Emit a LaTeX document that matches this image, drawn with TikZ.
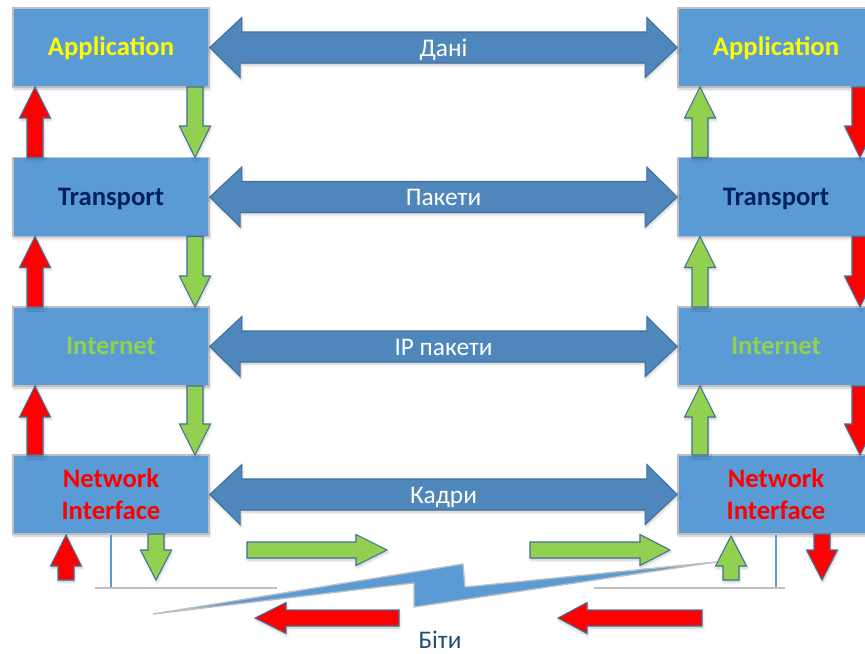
\documentclass[tikz,border=0pt]{standalone}
\usepackage{fontspec}
\setmainfont{Carlito}
\usetikzlibrary{calc,shadows.blur}

\definecolor{boxfill}{HTML}{5B9BD5}
\definecolor{boxline}{HTML}{BFBFBF}
\definecolor{dblfill}{HTML}{4F87BC}
\definecolor{arrline}{HTML}{41719C}
\definecolor{okgreen}{HTML}{92D050}
\definecolor{navytext}{HTML}{002060}
\definecolor{yellowtext}{HTML}{FFFF00}
\definecolor{bitblue}{HTML}{1F4E79}

% vertical block arrow: style, x, tail y, head-base y, tip y
\newcommand\varrow[5]{\path[#1] (#2-8,#3) -- (#2-8,#4) -- (#2-15.5,#4) -- (#2,#5)
  -- (#2+15.5,#4) -- (#2+8,#4) -- (#2+8,#3) -- cycle;}
% horizontal block arrow: style, y, tail x, head-base x, tip x
\newcommand\harrow[5]{\path[#1] (#3,#2-8) -- (#4,#2-8) -- (#4,#2-15.5) -- (#5,#2)
  -- (#4,#2+15.5) -- (#4,#2+8) -- (#3,#2+8) -- cycle;}
% two-headed band between a pair of layers, with its label
\newcommand\dblband[4]{%
  \path[dblarrow] (#1.east) -- ++(32,-30) -- ++(0,14.5) -- ++(405,0) -- ++(0,-14.5)
    -- (#2.west) -- ++(-32,30) -- ++(0,-14.5) -- ++(-405,0) -- ++(0,14.5) -- cycle;
  \node[bandlabel] (#3) at ($(#1.east)!0.5!(#2.west)$) {#4};}

\tikzset{
  softshadow/.style={blur shadow={shadow xshift=0.6pt, shadow yshift=-1.5pt,
      shadow blur radius=2pt, shadow opacity=22}},
  layer/.style={draw=boxline, line width=1.2pt, fill=boxfill, minimum width=147pt,
      minimum height=59.25pt, inner sep=0pt, align=center, softshadow,
      font=\fontsize{20}{24}\selectfont\bfseries},
  onerow/.style={text height=16.5pt, text depth=4pt},
  dblarrow/.style={draw=arrline, line width=0.8pt, fill=dblfill, softshadow},
  bandlabel/.style={text=white, inner sep=0pt, anchor=base, yshift=-6.4pt,
      font=\fontsize{19}{24}\selectfont},
  redarrow/.style={draw=arrline, line width=0.8pt, fill=red, softshadow},
  greenarrow/.style={draw=arrline, line width=0.8pt, fill=okgreen, softshadow},
  bolt/.style={draw=boxline, line width=1pt, fill=boxfill, line join=miter},
  wireline/.style={draw=boxline, line width=1.2pt},
  tapline/.style={draw=boxfill, line width=1pt},
}

\begin{document}
\begin{tikzpicture}[x=0.75pt,y=-0.75pt]
\useasboundingbox (0,0) rectangle (865,654);
\clip (0,0) rectangle (865,654);

% layer stacks of the two hosts
\node[layer, onerow, text=yellowtext] (appL) at (111,47.5) {Application};
\node[layer, onerow, text=navytext]   (trL)  at (111,197) {Transport};
\node[layer, onerow, text=okgreen]    (inL)  at (111,346.5) {Internet};
\node[layer, text=red]                (nwL)  at (111,494.5) {Network\\Interface};

\node[layer, onerow, text=yellowtext] (appR) at (776,47.5) {Application};
\node[layer, onerow, text=navytext]   (trR)  at (776,197) {Transport};
\node[layer, onerow, text=okgreen]    (inR)  at (776,346.5) {Internet};
\node[layer, text=red]                (nwR)  at (776,494.5) {Network\\Interface};

% peer-to-peer exchange on each level
\dblband{appL}{appR}{lblData}{Дані}
\dblband{trL}{trR}{lblSeg}{Пакети}
\dblband{inL}{inR}{lblIP}{IP пакети}
\dblband{nwL}{nwR}{lblFrame}{Кадри}

% left host: data goes down (green), replies go up (red)
\varrow{redarrow}{35}{157.5}{118}{87}
\varrow{redarrow}{35}{307}{267.5}{236.5}
\varrow{redarrow}{35}{455}{417}{386}
\varrow{greenarrow}{195}{87}{126}{157.5}
\varrow{greenarrow}{195}{236.5}{276}{307}
\varrow{greenarrow}{195}{386}{424}{455}

% right host: data goes up (green), replies go down (red)
\varrow{greenarrow}{700}{157.5}{118}{87}
\varrow{greenarrow}{700}{307}{267.5}{236.5}
\varrow{greenarrow}{700}{455}{417}{386}
\varrow{redarrow}{860}{87}{126}{157.5}
\varrow{redarrow}{860}{236.5}{276}{307}
\varrow{redarrow}{860}{386}{424}{455}

% physical medium
\draw[tapline] (nwL.south) -- ++(0,54) coordinate (tapL);
\draw[tapline] (nwR.south) -- ++(0,54) coordinate (tapR);
\draw[wireline] (95,588) -- (277,588);
\draw[wireline] (594,588) -- (785,588);
\path[bolt] (153,614) -- (463,564) -- (465,587) -- (716,562) -- (414,607) -- (414,583) -- cycle;

% bit flow along the medium
\varrow{redarrow}{66}{580}{566}{535}
\varrow{greenarrow}{156}{534}{550}{580}
\varrow{greenarrow}{731}{580}{566}{536}
\varrow{redarrow}{822}{534}{550}{580}
\harrow{greenarrow}{550}{247}{356}{387}
\harrow{greenarrow}{550}{530}{640}{670}
\harrow{redarrow}{618}{399}{286}{255}
\harrow{redarrow}{618}{702}{587}{558}

\node[text=bitblue, inner sep=0pt, anchor=base, font=\fontsize{19}{24}\selectfont] (bits) at (440,648) {Біти};
\end{tikzpicture}
\end{document}
